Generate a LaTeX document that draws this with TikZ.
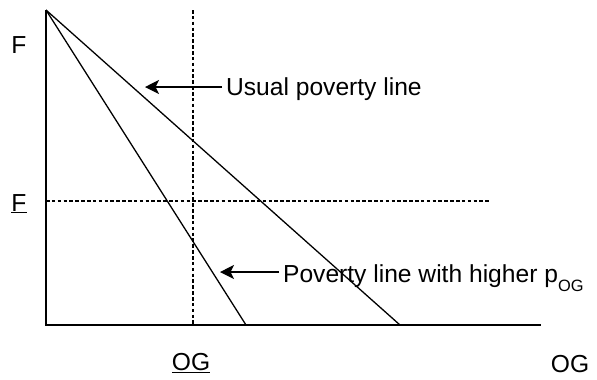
\documentclass[tikz,border=0pt]{standalone}
\usepackage{fontspec}
\setmainfont{Liberation Sans}
\usetikzlibrary{arrows.meta}

\begin{document}
\begin{tikzpicture}[x=0.03cm,y=-0.03cm,font=\fontsize{21}{25}\selectfont,
  axis/.style={line width=1.2pt},
  budget/.style={line width=1.1pt},
  guide/.style={line width=1pt,dash pattern=on 3pt off 2pt},
  pointer/.style={line width=1.1pt,-{Stealth[length=12pt,width=12pt,inset=3pt]}}]
\useasboundingbox (0,0) rectangle (597,379);
\coordinate (O) at (46,325);
\coordinate (T) at (46,10);
\coordinate (X) at (541,325);
\coordinate (A) at (246,325);
\coordinate (B) at (400,325);
\coordinate (V1) at (193,10);\coordinate (V2) at (193,325);
\coordinate (H1) at (46,201);\coordinate (H2) at (490,201);
\draw[guide] (V1) -- (V2);
\draw[guide] (H1) -- (H2);
\draw[axis] (T) -- (O) -- (X);
\draw[budget] (T) -- (A);
\draw[budget] (T) -- (B);
\node[anchor=base] (f) at (19,53) {F};
\node[anchor=base] (fbar) at (19,211) {\underline{F}};
\node[anchor=base] (ogbar) at (191,370) {\underline{OG}};
\node[anchor=base] (og) at (570,372) {OG};
\node[anchor=base west] (u) at (222,95) {Usual poverty line};
\node[anchor=base west] (p) at (279,282) {Poverty line with higher p\raisebox{-8pt}{\fontsize{14}{14}\selectfont OG}};
\coordinate (ua) at (145,87);
\coordinate (pa) at (220,272);
\draw[pointer] (u.west |- ua) -- (ua);
\draw[pointer] (p.west |- pa) -- (pa);
\end{tikzpicture}
\end{document}
